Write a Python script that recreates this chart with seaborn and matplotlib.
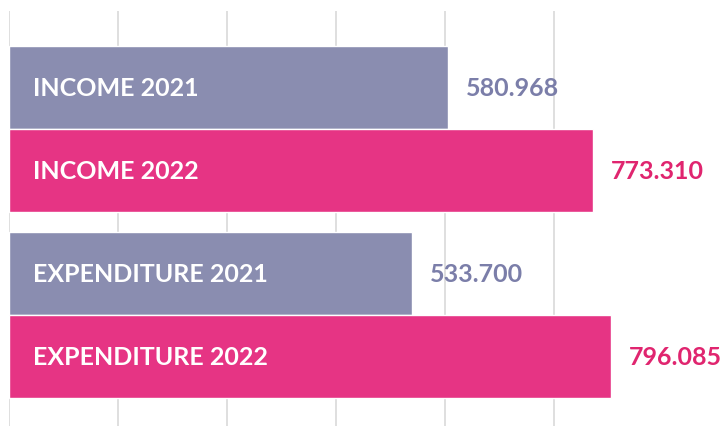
import matplotlib
matplotlib.use("Agg")
import matplotlib.pyplot as plt
import seaborn as sns
import pandas as pd

labels = ["INCOME 2021", "INCOME 2022", "EXPENDITURE 2021", "EXPENDITURE 2022"]
values = [580968, 773310, 533700, 796085]
years = ["2021", "2022", "2021", "2022"]
positions = [0.0, 1.0, 2.241, 3.241]

bar_colors = {"2021": "#8A8DB0", "2022": "#E63484"}
text_colors = {"2021": "#7B7EA9", "2022": "#E0256F"}

df = pd.DataFrame({"label": labels, "value": values, "year": years, "pos": positions})

sns.set_theme(style="white")
plt.rcParams["font.family"] = ["Lato", "DejaVu Sans"]

fig = plt.figure(figsize=(7.22, 4.27), dpi=100)
ax = fig.add_axes([9 / 722, 0, 713 / 722, 415 / 427])

grid_step = 144300
for k in range(6):
    ax.axvline(k * grid_step, color="#DCDCDC", lw=1.3, zorder=0)

sns.barplot(data=df, x="value", y="pos", hue="year", palette=bar_colors,
            orient="h", native_scale=True, width=1.0, dodge=False,
            legend=False, saturation=1, ax=ax, zorder=2)

ax.set_xlim(0, 943600)
ax.set_ylim(4.078, -0.922)

px = 943600 / 713
for lab, val, yr, p in zip(labels, values, years, positions):
    ax.text(24 * px, p, lab, color="white", fontsize=18, fontweight="bold",
            va="center", ha="left", zorder=3)
    s = f"{val:,}".replace(",", ".")
    ax.text(val + 18 * px, p, s, color=text_colors[yr], fontsize=18,
            fontweight="bold", va="center", ha="left", zorder=3)

ax.set_xlabel("")
ax.set_ylabel("")
ax.set_xticks([])
ax.set_yticks([])
for sp in ax.spines.values():
    sp.set_visible(False)

fig.savefig("out.png", dpi=100)
